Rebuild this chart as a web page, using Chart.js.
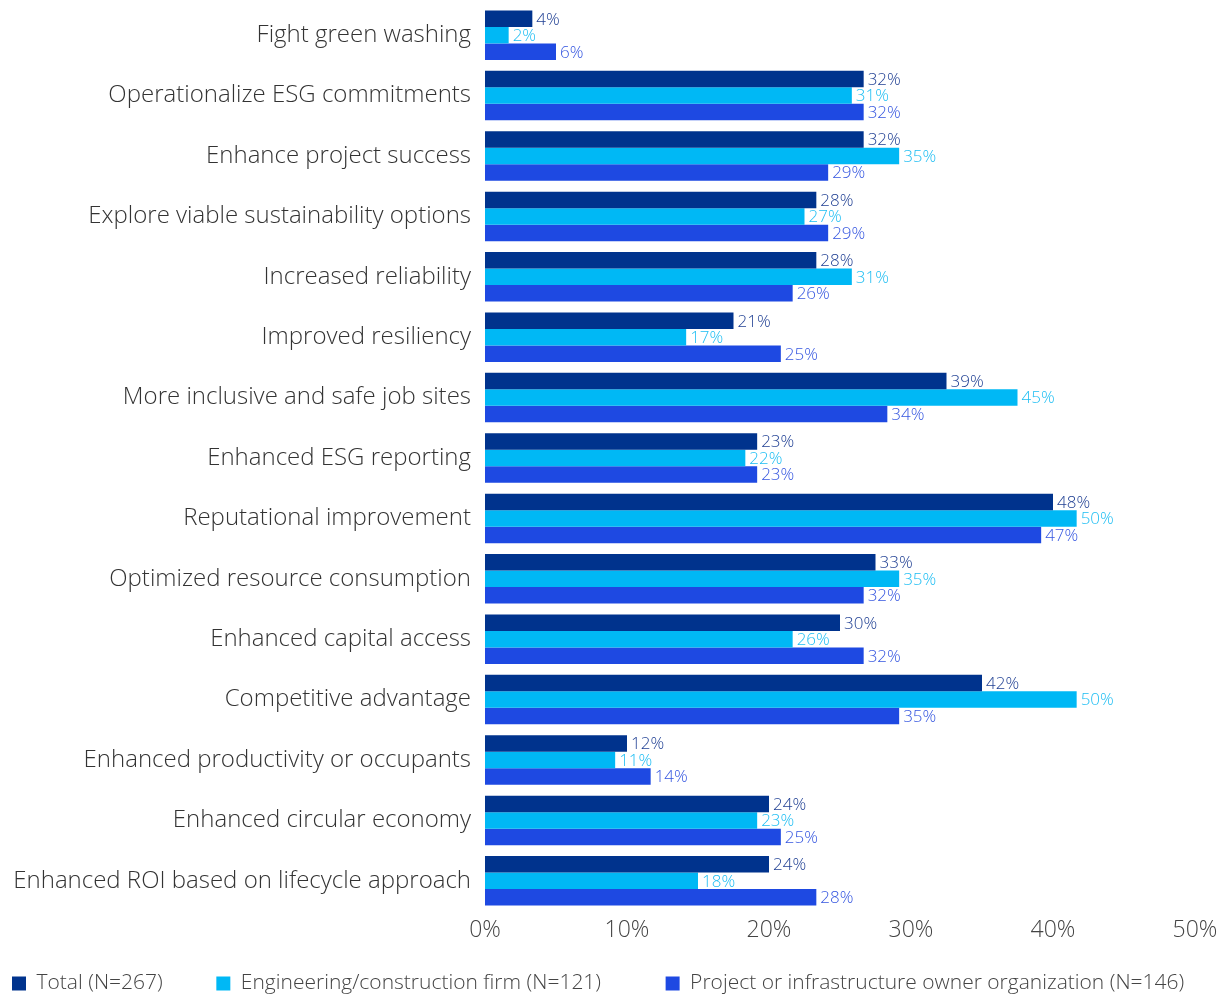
<!DOCTYPE html>
<html>
<head>
<meta charset="utf-8">
<script src="https://cdn.jsdelivr.net/npm/chart.js@4/dist/chart.umd.min.js"></script>
<style>
  html, body { margin: 0; padding: 0; background: #fff; }
  #wrap { width: 1232px; height: 995px; }
</style>
</head>
<body>
<div id="wrap"><canvas id="myChart"></canvas></div>
<script>
// benefits chart - three respondent groups

const categories = [
    'Fight green washing',
    'Operationalize ESG commitments',
    'Enhance project success',
    'Explore viable sustainability options',
    'Increased reliability',
    'Improved resiliency',
    'More inclusive and safe job sites',
    'Enhanced ESG reporting',
    'Reputational improvement',
    'Optimized resource consumption',
    'Enhanced capital access',
    'Competitive advantage',
    'Enhanced productivity or occupants',
    'Enhanced circular economy',
    'Enhanced ROI based on lifecycle approach'
]
const totalValues = [4, 32, 32, 28, 28, 21, 39, 23, 48, 33, 30, 42, 12, 24, 24]
const engineeringValues = [2, 31, 35, 27, 31, 17, 45, 22, 50, 35, 26, 50, 11, 23, 18]
const ownerValues = [6, 32, 29, 29, 26, 25, 34, 23, 47, 32, 32, 35, 14, 25, 28]
// the printed axis runs 0-50% but the bars are drawn on a 0-60 scale
const tickLabels = ['0%', '10%', '20%', '30%', '40%', '50%']

const seriesNames = ['Total (N=267)', 'Engineering/construction firm (N=121)', 'Project or infrastructure owner organization (N=146)']
const colors = ['#00338D', '#00B8F5', '#1E49E2']
const labelColors = ['#1F3F93', '#1FBEF3', '#3556E0']
const fontFamily = '"Open Sans", Roboto, sans-serif'
const legendFont = '300 21px ' + fontFamily

// draws the value next to the end of every bar
const barValueLabels = {
    id: 'barValueLabels',
    afterDatasetsDraw(chart) {
        const ctx = chart.ctx
        ctx.save()
        ctx.font = '300 17px ' + fontFamily
        ctx.textAlign = 'left'
        ctx.textBaseline = 'middle'
        chart.data.datasets.forEach((ds, i) => {
            const meta = chart.getDatasetMeta(i)
            ctx.fillStyle = labelColors[i]
            meta.data.forEach((bar, j) => {
                ctx.fillText(ds.data[j] + '%', bar.x + 4, bar.y + 1)
            })
        })
        ctx.restore()
    }
}

const data = {
    labels: categories,
    datasets: [
        { label: seriesNames[0], data: totalValues, backgroundColor: colors[0] },
        { label: seriesNames[1], data: engineeringValues, backgroundColor: colors[1] },
        { label: seriesNames[2], data: ownerValues, backgroundColor: colors[2] },
    ]
}

// legend entries sit in fixed columns in the original, pad the text out to them
const legendTextWidths = [166, 412, 0]
const padLegendText = (chart, text, width) => {
    const ctx = chart.ctx
    ctx.save()
    ctx.font = legendFont
    let out = text
    while (ctx.measureText(out).width < width) out += ' '
    ctx.restore()
    return out
}

const config = {
    type: 'bar',
    data: data,
    options: {
        indexAxis: 'y',
        responsive: true,
        maintainAspectRatio: false,
        animation: false,
        categoryPercentage: 0.82,
        barPercentage: 1.0,
        layout: { padding: { top: 5, right: 37, left: 2, bottom: -9 } },
        scales: {
            x: {
                min: 0,
                max: 60,
                grid: { display: false, drawTicks: false },
                border: { display: false },
                afterFit: (scale) => { scale.height = 52 },
                ticks: {
                    stepSize: 12,
                    padding: 6,
                    color: '#444',
                    font: { family: fontFamily, size: 23, weight: '300' },
                    callback: (value, index) => tickLabels[index]
                }
            },
            y: {
                grid: { display: false, drawTicks: false },
                border: { display: false },
                afterFit: (scale) => {
                    scale.width = 483
                    scale.paddingTop = 0
                    scale.paddingBottom = 0
                },
                ticks: {
                    padding: 14,
                    color: '#333',
                    font: { family: fontFamily, size: 24, weight: '300' }
                }
            }
        },
        plugins: {
            tooltip: { enabled: false },
            legend: {
                position: 'bottom',
                align: 'start',
                labels: {
                    boxWidth: 14,
                    boxHeight: 14,
                    padding: 10,
                    color: '#444',
                    font: { family: fontFamily, size: 21, weight: '300' },
                    generateLabels: (chart) => chart.data.datasets.map((ds, i) => ({
                        text: padLegendText(chart, ds.label, legendTextWidths[i]),
                        fillStyle: ds.backgroundColor,
                        strokeStyle: ds.backgroundColor,
                        lineWidth: 0,
                        fontColor: '#444',
                        datasetIndex: i
                    }))
                }
            }
        }
    },
    plugins: [barValueLabels]
}

const resultChart = new Chart(document.querySelector('#myChart'), config)
</script>
</body>
</html>
